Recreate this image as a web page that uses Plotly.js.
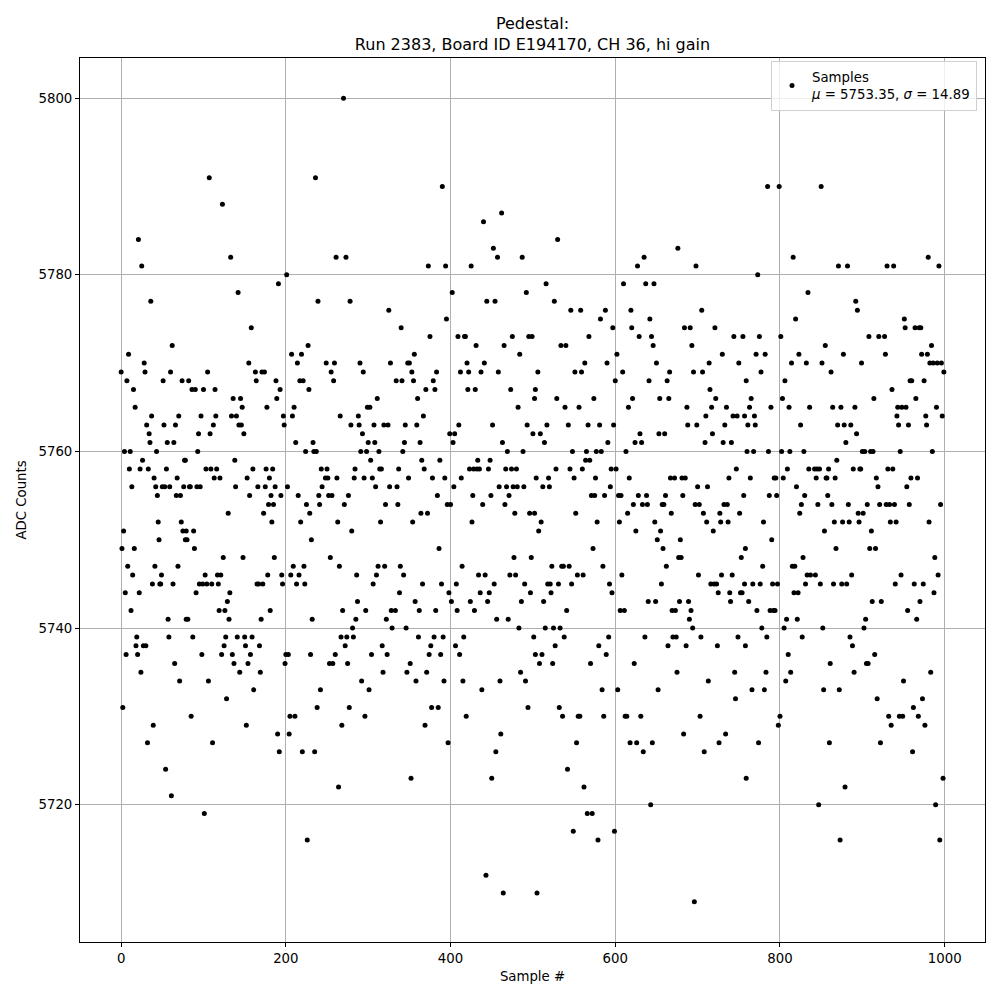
<!DOCTYPE html>
<html><head><meta charset="utf-8">
<script src="https://cdn.plot.ly/plotly-3.0.1.min.js"></script>
<style>body{margin:0;background:#fff}</style>
</head><body><div id="chart" style="width:1000px;height:1000px"></div>
<script>
// First sample number of each segment
const segStarts = [0,78,163,248,333,418,502,587,672,757,842,927];
const seg01 = [5769,5749,5731,5751,5760,5744,5737,5768,5747,5771,5758,5760,5742,5756,5746,5767,5749,5765,5738,5739,5737,5784,5744,5758,5735,5781,5759,5738,5770,5769,5738,5763,5727,5758,5762,5761,5777,5764,5745,5729,5757,5747,5756,5760,5755,5752,5750,5745,5745,5746,5756,5768,5763,5756,5724,5758,5761,5741,5739,5756,5769,5721,5772,5745,5761,5736,5763,5755,5757,5747,5764,5734,5755,5752,5768,5751,5756,5759,5750,5741];
const seg02 = [5759,5751,5750,5741,5768,5756,5756,5730,5767,5739,5751,5749,5767,5744,5756,5760,5762,5745,5756,5764,5737,5745,5767,5719,5746,5758,5745,5769,5734,5791,5762,5758,5745,5727,5763,5757,5767,5764,5758,5746,5745,5742,5757,5746,5737,5788,5748,5738,5742,5739,5732,5743,5753,5741,5744,5782,5764,5737,5766,5736,5759,5756,5764,5739,5778,5763,5735,5766,5763,5765,5748,5762,5739,5738,5729,5757,5736,5770,5755,5737,5774,5739,5758,5733];
const seg03 = [5769,5768,5745,5756,5745,5738,5735,5741,5769,5745,5753,5769,5756,5758,5765,5746,5754,5757,5742,5755,5752,5758,5754,5748,5756,5768,5766,5728,5779,5726,5767,5755,5746,5745,5764,5763,5736,5737,5780,5756,5737,5728,5730,5746,5771,5764,5747,5765,5730,5761,5745,5770,5755,5746,5768,5752,5771,5726,5768,5747,5745,5760,5754,5716,5772,5767,5753,5737,5750,5741,5761,5760,5726,5791,5760,5731,5777,5755,5754,5733,5758,5756];
const seg04 = [5757,5770,5758,5757,5755,5736,5748,5769,5755,5736,5768,5770,5737,5782,5757,5752,5722,5747,5764,5739,5729,5742,5800,5754,5738,5782,5739,5736,5755,5731,5777,5763,5751,5740,5739,5757,5758,5741,5746,5743,5764,5763,5770,5760,5734,5762,5769,5757,5730,5742,5760,5765,5761,5733,5765,5759,5737,5757,5745,5763,5761,5756,5746,5766,5747,5760,5758,5752,5758,5738,5735,5763,5747,5754,5741,5737,5763,5776,5756,5770,5742,5740];
const seg05 = [5742,5768,5756,5754,5758,5744,5747,5774,5768,5760,5746,5761,5763,5740,5735,5770,5757,5770,5736,5723,5769,5752,5768,5771,5743,5734,5763,5766,5739,5742,5761,5753,5759,5745,5764,5758,5729,5767,5735,5753,5781,5737,5773,5738,5731,5757,5768,5739,5767,5742,5769,5755,5731,5749,5759,5737,5745,5790,5739,5734,5757,5781,5775,5754,5727,5744,5762,5754,5743,5778,5761,5756,5762,5738,5745,5742,5773,5763,5737,5769,5757,5747,5734,5739,5773];
const seg06 = [5773,5730,5770,5767,5769,5758,5743,5781,5752,5755,5758,5742,5767,5772,5758,5759,5746,5758,5744,5769,5733,5754,5786,5770,5746,5712,5777,5743,5758,5744,5759,5755,5723,5763,5783,5745,5777,5726,5741,5782,5769,5756,5734,5728,5787,5761,5710,5772,5754,5758,5756,5760,5741,5755,5746,5767,5758,5773,5756,5748,5753,5746,5758,5756,5765,5740,5771,5735,5743,5782,5760,5756,5745,5734,5778,5763,5731,5773,5753,5744,5748,5773,5762,5739,5753,5737];
const seg07 = [5766,5767,5757,5710,5769,5751,5736,5762,5752,5737,5756,5743,5761,5740,5779,5763,5745,5757,5756,5745,5744,5747,5736,5740,5777,5738,5758,5766,5784,5745,5731,5740,5772,5747,5730,5747,5739,5765,5772,5742,5724,5763,5747,5758,5776,5745,5760,5717,5757,5769,5753,5727,5746,5730,5765,5730,5776,5769,5758,5746,5722,5770,5759,5760,5719,5763,5773,5759,5736,5755,5719,5749,5766,5755,5757,5760,5752,5716,5738,5763,5775,5760,5733,5747,5730];
const seg08 = [5755,5776,5737,5770,5761,5739,5745,5756,5758,5744,5774,5763,5717,5768,5758,5771,5733,5755,5752,5742,5755,5746,5769,5779,5742,5730,5760,5730,5753,5765,5757,5727,5776,5774,5766,5754,5736,5761,5751,5727,5781,5755,5773,5762,5730,5761,5754,5726,5782,5739,5779,5755,5754,5743,5768,5775,5720,5773,5727,5772,5779,5752,5743,5770,5750,5733,5762,5766,5751,5745,5754,5749,5754,5762,5755,5747,5768,5738,5766,5769,5757,5753,5742,5739];
const seg09 = [5757,5742,5739,5735,5783,5748,5743,5750,5748,5757,5755,5728,5774,5757,5738,5765,5763,5743,5741,5774,5742,5772,5740,5769,5709,5754,5781,5763,5756,5746,5754,5730,5739,5776,5769,5753,5726,5761,5764,5752,5756,5734,5770,5767,5745,5765,5762,5751,5745,5774,5766,5745,5738,5744,5727,5753,5752,5746,5771,5761,5754,5763,5728,5765,5754,5752,5757,5744,5743,5761,5746,5764,5773,5735,5732,5758,5764,5739,5770,5753,5744,5748,5744,5773,5755,5745,5749,5723];
const seg10 = [5764,5738,5768,5760,5763,5743,5765,5757,5766,5733,5745,5760,5764,5763,5771,5742,5780,5727,5773,5745,5769,5740,5747,5752,5733,5771,5735,5739,5790,5760,5755,5742,5765,5750,5745,5742,5757,5742,5757,5755,5745,5729,5790,5730,5773,5760,5766,5757,5740,5768,5734,5741,5758,5737,5765,5760,5735,5770,5747,5782,5744,5747,5775,5756,5741,5744,5771,5753,5763,5754,5739,5748,5760,5755,5745,5770,5746,5778,5758,5765,5746];
const seg11 = [5758,5746,5757,5758,5754,5720,5758,5745,5790,5770,5740,5733,5751,5772,5757,5757,5755,5758,5727,5736,5769,5754,5765,5745,5752,5757,5749,5759,5763,5781,5733,5716,5765,5745,5752,5771,5763,5722,5761,5745,5781,5754,5752,5739,5763,5746,5738,5758,5735,5765,5777,5762,5776,5753,5752,5758,5758,5770,5760,5753,5740,5760,5741,5736,5754,5736,5773,5749,5760,5751,5743,5760,5766,5737,5749,5757,5732,5756,5773,5754,5727,5743];
const seg12 = [5773,5771,5754,5781,5758,5730,5754,5752,5729,5767,5758,5781,5754,5745,5752,5764,5765,5763,5730,5760,5746,5765,5730,5734,5775,5774,5765,5756,5742,5763,5754,5768,5757,5768,5726,5731,5745,5774,5766,5741,5757,5730,5774,5743,5774,5771,5732,5745,5768,5729,5764,5763,5771,5782,5752,5770,5735,5772,5760,5770,5744,5748,5720,5765,5770,5746,5781,5716,5754,5770,5764,5723,5769];

const segments = [seg01,seg02,seg03,seg04,seg05,seg06,seg07,seg08,seg09,seg10,seg11,seg12];
const xTicks = [0,200,400,600,800,1000];
const yTicks = [5720,5740,5760,5780,5800];
const titleLines = ["Pedestal:", "Run 2383, Board ID E194170, CH 36, hi gain"];
const legendLines = ["Samples", "<i>μ</i> = 5753.35, <i>σ</i> = 14.89"];

const xs = [], ys = [];
segments.forEach((seg, k) => seg.forEach((v, i) => { xs.push(segStarts[k] + i); ys.push(v); }));

const font = {family: "DejaVu Sans, sans-serif", size: 13.3, color: "#000"};
const axisCommon = {
  showline: true, mirror: true, linecolor: "#000", linewidth: 1,
  ticks: "outside", ticklen: 4, tickcolor: "#000", tickwidth: 1,
  showgrid: true, gridcolor: "#b0b0b0", gridwidth: 1,
  zeroline: false, tickfont: font
};

Plotly.newPlot("chart", [{
  x: xs, y: ys, type: "scatter", mode: "markers",
  marker: {color: "#000", size: 5},
  name: legendLines.join("<br>")
}], {
  width: 1000, height: 1000,
  margin: {l: 80, r: 15, t: 58, b: 58},
  paper_bgcolor: "#fff", plot_bgcolor: "#fff",
  font: font,
  title: {text: titleLines.join("<br>"), font: {family: "DejaVu Sans, sans-serif", size: 16, color: "#000"},
          x: 0.5, xref: "paper", xanchor: "center", y: 0.971, yref: "container", yanchor: "top"},
  xaxis: Object.assign({}, axisCommon, {range: [-49.95, 1048.95], tickvals: xTicks,
          title: {text: "Sample #", font: font, standoff: 6}}),
  yaxis: Object.assign({}, axisCommon, {range: [5704.45, 5804.55], tickvals: yTicks,
          title: {text: "ADC Counts", font: font, standoff: 8}}),
  showlegend: true,
  legend: {x: 0.9912, y: 0.997, xanchor: "right", yanchor: "top",
           bgcolor: "rgba(255,255,255,0.8)", bordercolor: "#d0d0d0", borderwidth: 1,
           font: font}
}, {displayModeBar: false});
</script></body></html>
